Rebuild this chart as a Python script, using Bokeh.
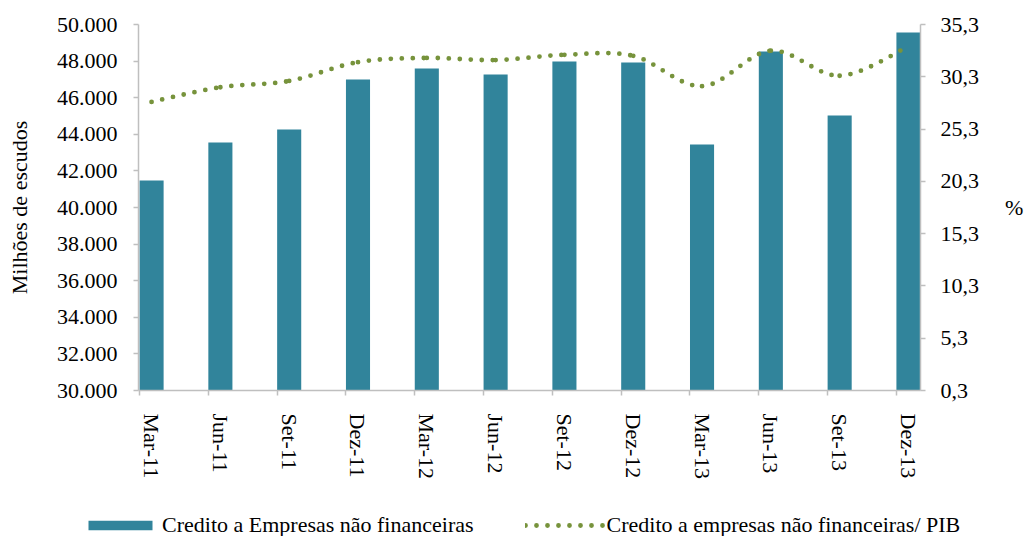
import numpy as np
from bokeh.plotting import figure
from bokeh.layouts import column
from bokeh.models import (Range1d, LinearAxis, FixedTicker, CustomJSTickFormatter,
                          Legend, LegendItem)
from bokeh.embed import file_html
from bokeh.resources import INLINE

categories = ["Mar-11", "Jun-11", "Set-11", "Dez-11", "Mar-12", "Jun-12",
              "Set-12", "Dez-12", "Mar-13", "Jun-13", "Set-13", "Dez-13"]
credito = [41480, 43550, 44260, 47000, 47600, 47270, 47980, 47920, 43440, 48520, 45030, 49560]
credito_pib = [27.9, 29.3, 29.9, 31.7, 32.1, 31.9, 32.4, 32.3, 29.4, 32.8, 30.4, 33.2]
left_ticks = [30000, 32000, 34000, 36000, 38000, 40000, 42000, 44000, 46000, 48000, 50000]
left_tick_labels = ["30.000", "32.000", "34.000", "36.000", "38.000", "40.000",
                    "42.000", "44.000", "46.000", "48.000", "50.000"]
right_ticks = [0.3, 5.3, 10.3, 15.3, 20.3, 25.3, 30.3, 35.3]
right_tick_labels = ["0,3", "5,3", "10,3", "15,3", "20,3", "25,3", "30,3", "35,3"]
bar_name = "Credito a Empresas não financeiras"
line_name = "Credito a empresas não financeiras/ PIB"
left_title = "Milhões de escudos"
right_title = "%"

FONT = "Liberation Serif"
FS = "22px"
BAR_C = "#31849B"
LINE_C = "#77933C"
AX_C = "#BFBFBF"
TXT_C = "#000000"

BW = 0.35
idx = np.arange(len(categories), dtype=float)
xc = idx + BW / 2

p = figure(frame_width=782, frame_height=366, output_backend="svg", toolbar_location=None,
           x_range=Range1d(-0.015, 11.35), y_range=Range1d(30000, 50000),
           x_axis_location=None, y_axis_location=None,
           min_border_left=138, min_border_right=105, min_border_top=24,
           min_border_bottom=110)
p.extra_y_ranges = {"pct": Range1d(0.3, 35.3)}
p.outline_line_color = None
for g in p.grid:
    g.visible = False

BAR_STYLE = dict(fill_color=BAR_C, line_color=None)
bars = p.vbar(x=xc, top=credito, bottom=30000, width=BW, **BAR_STYLE)

# smoothed (Excel-like) curve through the data points, drawn as Bezier segments
pts_x = list(xc)
pts_y = list(credito_pib)
n = len(pts_x)
seg = dict(x0=[], y0=[], x1=[], y1=[], cx0=[], cy0=[], cx1=[], cy1=[])
for i in range(n - 1):
    a = max(i - 1, 0)
    d = min(i + 2, n - 1)
    seg["x0"].append(pts_x[i]); seg["y0"].append(pts_y[i])
    seg["x1"].append(pts_x[i + 1]); seg["y1"].append(pts_y[i + 1])
    seg["cx0"].append(pts_x[i] + (pts_x[i + 1] - pts_x[a]) / 6)
    seg["cy0"].append(pts_y[i] + (pts_y[i + 1] - pts_y[a]) / 6)
    seg["cx1"].append(pts_x[i + 1] - (pts_x[d] - pts_x[i]) / 6)
    seg["cy1"].append(pts_y[i + 1] - (pts_y[d] - pts_y[i]) / 6)
LINE_STYLE = dict(line_color=LINE_C, line_width=4.8, line_dash="0 11", line_cap="round")
curve = p.bezier(y_range_name="pct", **seg, **LINE_STYLE)

lookup = """
let k = 0, best = Infinity;
for (let i = 0; i < tvals.length; i++) {
  const e = Math.abs(tvals[i] - tick);
  if (e < best) { best = e; k = i; }
}
return tlabels[k];
"""

def style(ax):
    ax.axis_line_color = AX_C
    ax.axis_line_width = 1.5
    ax.major_tick_line_color = AX_C
    ax.major_tick_line_width = 1.5
    ax.minor_tick_line_color = AX_C
    ax.minor_tick_line_width = 1.5
    ax.major_tick_in = 0
    ax.major_tick_out = 5
    ax.minor_tick_in = 0
    ax.minor_tick_out = 0
    ax.major_label_text_font = FONT
    ax.major_label_text_font_size = FS
    ax.major_label_text_color = TXT_C
    ax.axis_label_text_font = FONT
    ax.axis_label_text_font_size = FS
    ax.axis_label_text_font_style = "normal"
    ax.axis_label_text_color = TXT_C

left = LinearAxis(ticker=FixedTicker(ticks=left_ticks),
                  formatter=CustomJSTickFormatter(args=dict(tvals=left_ticks, tlabels=left_tick_labels), code=lookup),
                  axis_label=left_title)
style(left)
left.major_label_standoff = 16
left.axis_label_standoff = 22
p.add_layout(left, "left")

right = LinearAxis(y_range_name="pct", ticker=FixedTicker(ticks=right_ticks),
                   formatter=CustomJSTickFormatter(args=dict(tvals=right_ticks, tlabels=right_tick_labels), code=lookup),
                   axis_label=right_title)
style(right)
right.major_label_standoff = 15
right.axis_label_standoff = 23
try:
    right.axis_label_orientation = "horizontal"
except Exception:
    pass
p.add_layout(right, "right")

bottom = LinearAxis(ticker=FixedTicker(ticks=list(xc), minor_ticks=list(idx)),
                    formatter=CustomJSTickFormatter(args=dict(tlabels=categories),
                                                    code="return tlabels[Math.round(tick)];"),
                    major_label_orientation="vertical")
style(bottom)
bottom.major_tick_line_color = None
bottom.minor_tick_out = 5
bottom.major_label_standoff = 18
p.add_layout(bottom, "below")

# legend strip below the chart (its renderers reuse the data but lie outside its view)
lf = figure(frame_width=1025, frame_height=36, output_backend="svg", toolbar_location=None,
            x_range=Range1d(100, 101), y_range=Range1d(100000, 100001),
            x_axis_location=None, y_axis_location=None,
            min_border_left=0, min_border_right=0, min_border_top=0, min_border_bottom=0)
lf.outline_line_color = None
for g in lf.grid:
    g.visible = False
lbar = lf.vbar(x=xc, top=credito, bottom=30000, width=BW, **BAR_STYLE)
lline = lf.bezier(**seg, **LINE_STYLE)
legend = Legend(items=[LegendItem(label=bar_name, renderers=[lbar]),
                       LegendItem(label=line_name, renderers=[lline])],
                orientation="horizontal", location=(80, -2),
                label_text_font=FONT, label_text_font_size=FS, label_text_color=TXT_C,
                glyph_width=80, glyph_height=12, spacing=51, label_standoff=2,
                border_line_color=None, background_fill_alpha=0, margin=0, padding=0)
lf.add_layout(legend)

layout = column(p, lf, spacing=0)
open("out.html", "w").write(file_html(layout, INLINE))
